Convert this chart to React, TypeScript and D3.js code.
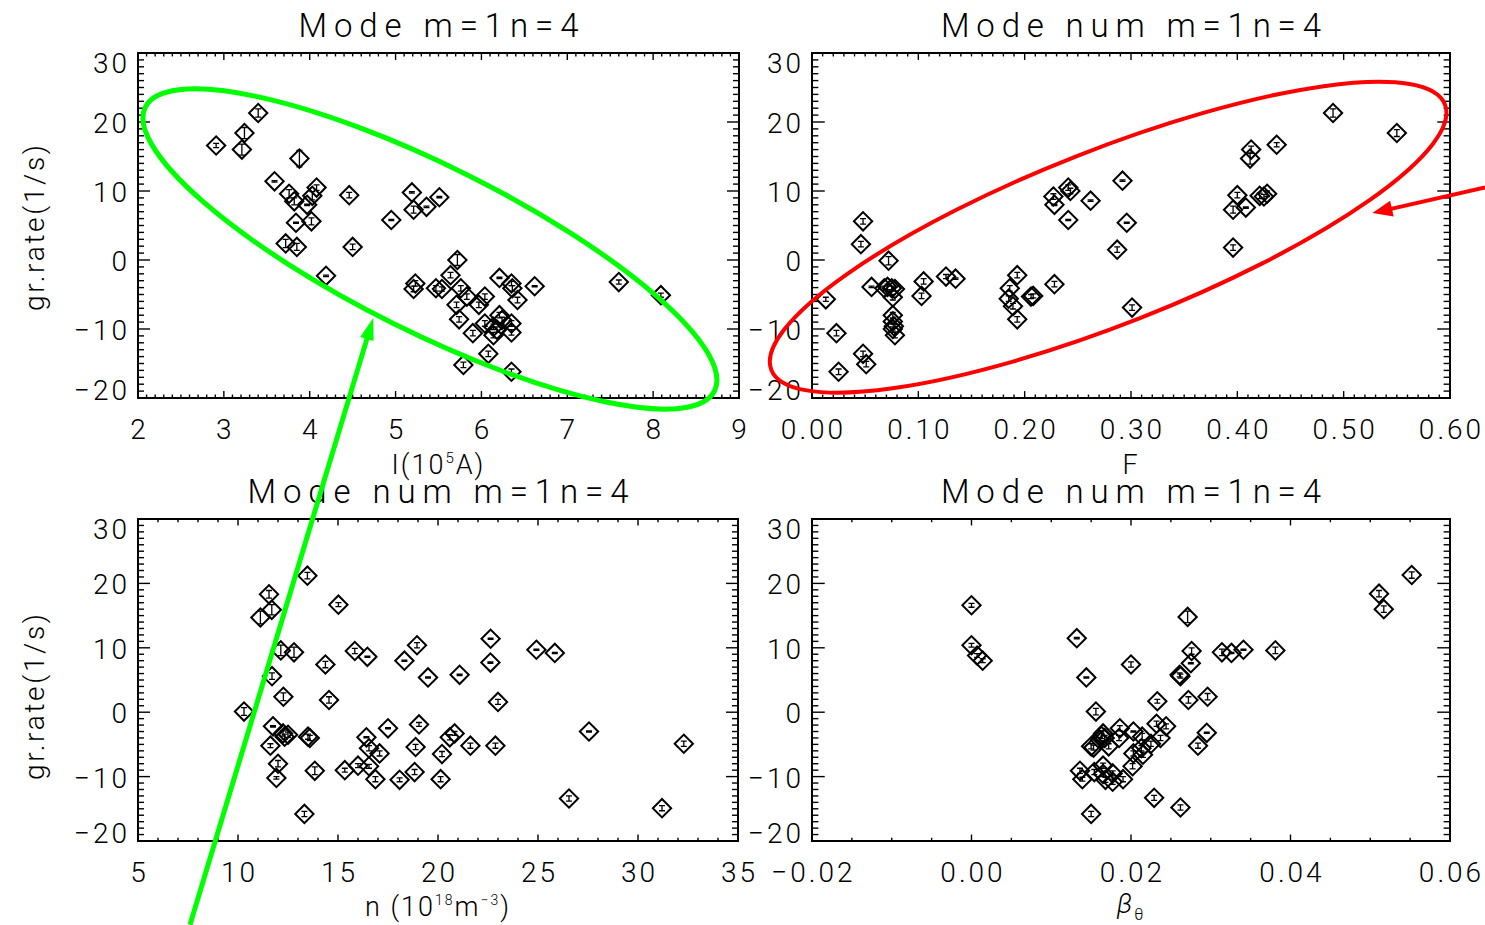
import React from "react";
import * as d3 from "d3";

// ---- shared growth-rate axis ----
const RATE_DOMAIN = [-20, 30];
const RATE_TICKS = [-20, -10, 0, 10, 20, 30];

// ---- panel 1: growth rate vs plasma current I (10^5 A) ----
const I_TICKS = [2, 3, 4, 5, 6, 7, 8, 9];
const currentI = [2.91, 3.21, 3.24, 3.40, 3.88, 3.59, 4.08, 3.76, 4.03, 3.82, 3.97, 4.46, 5.19, 5.51, 5.36, 5.21, 4.95, 3.84, 4.02, 3.72, 3.85, 4.50, 4.19, 5.72, 5.64, 5.23, 5.21, 5.47, 5.54, 5.76, 5.83, 6.04, 5.97, 5.71, 5.74, 6.21, 6.35, 6.36, 6.62, 6.42, 6.21, 6.24, 6.04, 6.35, 6.14, 6.18, 6.35, 5.90, 6.14, 6.08, 5.79, 6.35, 7.60, 8.09];
const rateVsI = [16.6, 16.0, 18.4, 21.3, 14.7, 11.4, 10.5, 9.6, 9.3, 8.5, 8.0, 9.4, 9.8, 9.1, 7.7, 7.3, 5.8, 5.4, 5.6, 2.4, 1.9, 1.9, -2.3, 0.0, -2.2, -3.4, -4.2, -4.1, -4.2, -4.1, -5.3, -5.3, -6.5, -6.5, -8.6, -2.6, -3.4, -4.1, -3.8, -5.8, -8.0, -8.7, -9.2, -9.2, -9.7, -10.1, -10.5, -10.6, -10.9, -13.6, -15.2, -16.2, -3.2, -5.1];
const errVsI = [0.3, 0.8, 0.8, 0.6, 1.2, 0.1, 0.4, 0.6, 0.6, 0.5, 0.1, 0.4, 0.1, 0.1, 0.1, 0.5, 0.1, 0.1, 0.5, 0.6, 0.5, 0.4, 0.1, 0.8, 0.4, 0.4, 0.4, 0.4, 0.3, 0.4, 0.4, 0.4, 0.4, 0.4, 0.4, 0.1, 0.3, 0.4, 0.1, 0.4, 0.4, 0.4, 0.4, 0.4, 0.4, 0.4, 0.4, 0.4, 0.4, 0.4, 0.4, 0.4, 0.3, 0.3];

// ---- panel 2: growth rate vs F ----
const F_TICKS = [0, 0.1, 0.2, 0.3, 0.4, 0.5, 0.6];
const fValues = [0.013, 0.023, 0.025, 0.048, 0.046, 0.072, 0.056, 0.071, 0.075, 0.078, 0.068, 0.076, 0.076, 0.076, 0.077, 0.078, 0.076, 0.048, 0.051, 0.105, 0.103, 0.126, 0.135, 0.193, 0.186, 0.185, 0.189, 0.193, 0.206, 0.208, 0.228, 0.227, 0.228, 0.241, 0.243, 0.241, 0.262, 0.292, 0.296, 0.287, 0.301, 0.490, 0.550, 0.437, 0.413, 0.412, 0.400, 0.396, 0.408, 0.421, 0.428, 0.425, 0.396];
const rateVsF = [-5.7, -10.6, -16.2, 5.6, 2.3, -0.1, -3.9, -3.9, -4.1, -4.2, -4.1, -5.4, -8.0, -8.9, -9.6, -10.9, -10.0, -13.6, -15.1, -3.1, -5.2, -2.4, -2.7, -2.2, -4.1, -5.6, -6.7, -8.6, -5.3, -5.2, -3.5, 9.2, 8.0, 10.5, 10.0, 5.8, 8.6, 11.5, 5.4, 1.5, -6.9, 21.3, 18.4, 16.7, 16.0, 14.7, 9.4, 7.3, 7.6, 9.3, 9.6, 9.2, 1.8];
const errVsF = [0.3, 0.4, 0.4, 0.4, 0.4, 0.6, 0.1, 0.4, 0.3, 0.3, 0.3, 0.4, 0.4, 0.4, 0.3, 0.4, 0.3, 0.4, 0.4, 0.4, 0.4, 0.3, 0.1, 0.4, 0.4, 0.4, 0.4, 0.4, 0.3, 0.3, 0.4, 0.4, 0.1, 0.4, 0.4, 0.1, 0.1, 0.1, 0.1, 0.4, 0.4, 0.6, 0.5, 0.3, 0.5, 0.8, 0.4, 0.5, 0.1, 0.4, 0.4, 0.3, 0.4];

// ---- panel 3: growth rate vs density n (10^18 m^-3) ----
const N_TICKS = [5, 10, 15, 20, 25, 30, 35];
const density = [13.47, 11.55, 11.69, 11.12, 15.02, 12.14, 12.80, 15.84, 16.47, 14.37, 18.32, 18.95, 19.50, 11.70, 12.27, 14.55, 10.30, 11.75, 12.25, 12.50, 12.33, 13.50, 13.59, 11.62, 12.00, 11.92, 13.84, 13.32, 15.34, 16.00, 16.55, 16.42, 16.55, 17.08, 16.87, 17.50, 18.08, 18.83, 18.88, 19.05, 20.13, 20.20, 21.08, 22.63, 22.62, 24.92, 25.84, 23.00, 20.59, 20.83, 21.62, 22.87, 27.55, 26.55, 32.29, 31.20];
const rateVsN = [21.2, 18.3, 15.9, 14.7, 16.7, 9.6, 9.3, 9.5, 8.6, 7.4, 8.0, 10.4, 5.4, 5.6, 2.4, 1.9, 0.1, -2.2, -3.3, -3.5, -3.8, -3.8, -4.0, -5.2, -8.0, -10.2, -9.1, -15.8, -9.0, -8.3, -8.4, -3.9, -5.6, -6.4, -10.4, -2.5, -10.5, -9.3, -5.4, -1.9, -10.4, -6.5, 5.8, 11.4, 7.7, 9.7, 9.2, 1.6, -3.9, -3.3, -5.2, -5.2, -3.0, -13.4, -4.9, -14.9];
const errVsN = [0.5, 0.6, 0.8, 1.0, 0.3, 0.8, 0.8, 0.4, 0.1, 0.5, 0.1, 0.4, 0.1, 0.5, 0.6, 0.5, 0.6, 0.1, 0.4, 0.4, 0.4, 0.4, 0.4, 0.3, 0.5, 0.2, 0.6, 0.4, 0.3, 0.3, 0.3, 0.1, 0.4, 0.4, 0.4, 0.1, 0.3, 0.4, 0.4, 0.3, 0.4, 0.4, 0.1, 0.1, 0.1, 0.1, 0.1, 0.4, 0.4, 0.3, 0.4, 0.4, 0.1, 0.4, 0.4, 0.4];

// ---- panel 4: growth rate vs poloidal beta ----
const BETA_TICKS = [-0.02, 0, 0.02, 0.04, 0.06];
const betaTheta = [0.0000, 0.0000, 0.0007, 0.0014, 0.0132, 0.0144, 0.0156, 0.0200, 0.0271, 0.0276, 0.0275, 0.0261, 0.0262, 0.0314, 0.0326, 0.0341, 0.0233, 0.0272, 0.0296, 0.0295, 0.0284, 0.0229, 0.0262, 0.0150, 0.0165, 0.0163, 0.0167, 0.0161, 0.0186, 0.0203, 0.0185, 0.0214, 0.0232, 0.0244, 0.0237, 0.0225, 0.0213, 0.0203, 0.0215, 0.0202, 0.0153, 0.0150, 0.0172, 0.0136, 0.0139, 0.0154, 0.0165, 0.0165, 0.0168, 0.0177, 0.0190, 0.0177, 0.0381, 0.0552, 0.0511, 0.0517];
const rateVsBeta = [16.6, 10.4, 8.8, 8.0, 11.5, 5.4, 0.1, 7.4, 14.8, 9.5, 7.6, 5.8, 5.6, 9.3, 9.2, 9.7, 1.7, 1.9, 2.4, -3.2, -5.2, -13.3, -14.8, -15.8, -3.3, -3.7, -4.0, -4.3, -2.5, -3.0, -4.0, -3.8, -1.8, -2.2, -4.0, -4.9, -5.6, -6.4, -6.6, -8.4, -5.5, -5.3, -5.3, -9.1, -10.4, -9.3, -8.3, -9.6, -10.5, -9.5, -10.4, -10.8, 9.6, 21.3, 18.4, 16.0];
const errVsBeta = [0.3, 0.3, 0.3, 0.3, 0.1, 0.1, 0.5, 0.4, 0.9, 0.5, 0.1, 0.3, 0.3, 0.5, 0.1, 0.1, 0.3, 0.5, 0.5, 0.1, 0.4, 0.4, 0.4, 0.4, 0.4, 0.4, 0.4, 0.4, 0.4, 0.1, 0.4, 0.5, 0.4, 0.4, 0.4, 0.4, 0.4, 0.4, 0.4, 0.4, 0.4, 0.4, 0.4, 0.4, 0.3, 0.4, 0.4, 0.4, 0.4, 0.4, 0.4, 0.4, 0.5, 0.5, 0.5, 0.5];

const FONT = "Roboto, 'Liberation Sans', Arial, sans-serif";
const W = 1485;
const H = 925;

type Spec = {
  left: number; right: number; top: number; bottom: number;
  xDomain: number[]; xTicks: number[]; xMinor: number; xFmt: (v: number) => string;
  title: string; titleLen: number; yTitleY: number; xTitleDy: number;
  xTitle: React.ReactNode;
  xs: number[]; ys: number[]; errs: number[];
};

const fmtInt = d3.format("d");
const fmt2 = d3.format(".2f");

const specs: Spec[] = [
  {
    left: 138, right: 739, top: 53, bottom: 398,
    xDomain: [2, 9], xTicks: I_TICKS, xMinor: 0.1, xFmt: fmtInt,
    title: "Mode m=1n=4", titleLen: 280, yTitleY: 228, xTitleDy: 76,
    xTitle: (<>I(10<tspan fontSize="15" dy="-11">5</tspan><tspan dy="11">A)</tspan></>),
    xs: currentI, ys: rateVsI, errs: errVsI,
  },
  {
    left: 812, right: 1450, top: 53, bottom: 398,
    xDomain: [0, 0.6], xTicks: F_TICKS, xMinor: 0.01, xFmt: fmt2,
    title: "Mode num m=1n=4", titleLen: 380, yTitleY: 0, xTitleDy: 76,
    xTitle: "F",
    xs: fValues, ys: rateVsF, errs: errVsF,
  },
  {
    left: 138, right: 738, top: 519, bottom: 841,
    xDomain: [5, 35], xTicks: N_TICKS, xMinor: 1, xFmt: fmtInt,
    title: "Mode num m=1n=4", titleLen: 381, yTitleY: 697, xTitleDy: 75,
    xTitle: (<>n (10<tspan fontSize="14" dy="-11">18</tspan><tspan dy="11">m</tspan><tspan fontSize="14" dy="-11">−3</tspan><tspan dy="11">)</tspan></>),
    xs: density, ys: rateVsN, errs: errVsN,
  },
  {
    left: 812, right: 1450, top: 519, bottom: 841,
    xDomain: [-0.02, 0.06], xTicks: BETA_TICKS, xMinor: 0.005, xFmt: fmt2,
    title: "Mode num m=1n=4", titleLen: 380, yTitleY: 0, xTitleDy: 72,
    xTitle: (<><tspan fontStyle="italic">β</tspan><tspan fontSize="16" dy="7">θ</tspan></>),
    xs: betaTheta, ys: rateVsBeta, errs: errVsBeta,
  },
];

function scalesFor(s: Spec) {
  const x = d3.scaleLinear().domain(s.xDomain).range([s.left, s.right]);
  const y = d3.scaleLinear().domain(RATE_DOMAIN).range([s.bottom, s.top]);
  return { x, y };
}

function minorValues(domain: number[], step: number) {
  const n = Math.round((domain[1] - domain[0]) / step);
  return d3.range(n + 1).map((i) => domain[0] + i * step);
}

const diamond = d3.symbol(d3.symbolSquare, 168)();

function Panel({ s }: { s: Spec }) {
  const { x, y } = scalesFor(s);
  const w = s.right - s.left;
  const h = s.bottom - s.top;
  const yMaj = 0.02 * w, yMin = yMaj / 2;
  const xMaj = 0.02 * h, xMin = xMaj / 2;
  const xMinorTicks = minorValues(s.xDomain, s.xMinor);
  const yMinorTicks = minorValues(RATE_DOMAIN, 1);
  const cx = (s.left + s.right) / 2;
  const n = Math.min(s.xs.length, s.ys.length, s.errs.length);
  const pts = d3.range(n).map((i) => ({ x: s.xs[i], y: s.ys[i], e: s.errs[i] }));

  return (
    <g>
      {/* title */}
      <text x={cx} y={s.top - 16} textAnchor="middle" fontSize={33} textLength={s.titleLen} lengthAdjust="spacing">{s.title}</text>

      {/* frame */}
      <rect x={s.left} y={s.top} width={w} height={h} fill="none" stroke="#000" strokeWidth={2} />

      {/* ticks on all four sides */}
      <g stroke="#000" strokeWidth={1.4}>
        {xMinorTicks.map((v, i) => {
          const isMajor = s.xTicks.some((t) => Math.abs(t - v) < s.xMinor / 10);
          const len = isMajor ? xMaj : xMin;
          const px = x(v);
          return (
            <g key={"xt" + i}>
              <line x1={px} x2={px} y1={s.bottom} y2={s.bottom - len} />
              <line x1={px} x2={px} y1={s.top} y2={s.top + len} />
            </g>
          );
        })}
        {yMinorTicks.map((v, i) => {
          const isMajor = RATE_TICKS.includes(Math.round(v)) && Math.abs(v - Math.round(v)) < 1e-6;
          const len = isMajor ? yMaj : yMin;
          const py = y(v);
          return (
            <g key={"yt" + i}>
              <line x1={s.left} x2={s.left + len} y1={py} y2={py} />
              <line x1={s.right} x2={s.right - len} y1={py} y2={py} />
            </g>
          );
        })}
      </g>

      {/* tick labels */}
      <g fontSize={28} letterSpacing={3}>
        {s.xTicks.map((v) => (
          <text key={"xl" + v} x={x(v) + 1.5} y={s.bottom + 41} textAnchor="middle">{s.xFmt(v)}</text>
        ))}
        {RATE_TICKS.map((v) => {
          const c = Math.min(Math.max(y(v) + 1, s.top + 10), s.bottom - 8);
          return (
            <text key={"yl" + v} x={s.left - 8} y={c + 10} textAnchor="end">{fmtInt(v)}</text>
          );
        })}
      </g>

      {/* axis titles */}
      <text x={cx} y={s.bottom + s.xTitleDy} textAnchor="middle" fontSize={27} letterSpacing={2}>{s.xTitle}</text>
      {s.yTitleY > 0 && (
        <text transform={`translate(44,${s.yTitleY}) rotate(-90)`} textAnchor="middle" fontSize={28} textLength={166} lengthAdjust="spacing">gr.rate(1/s)</text>
      )}

      {/* measurements: diamond + error bar */}
      <g fill="none" stroke="#000">
        {pts.map((p, i) => {
          const px = x(p.x);
          const py = y(p.y);
          const y0 = y(p.y - p.e);
          const y1 = y(p.y + p.e);
          return (
            <g key={"p" + i}>
              <path d={diamond} transform={`translate(${px},${py}) rotate(45)`} strokeWidth={2} />
              <path d={`M${px},${y0}V${y1}M${px - 3},${y0}H${px + 3}M${px - 3},${y1}H${px + 3}`} strokeWidth={1.3} />
            </g>
          );
        })}
      </g>
    </g>
  );
}

// ---- highlight rings and pointers (centres/tips in data units, sizes in px) ----
const GREEN_RING = { cx: 5.4, cy: 1.6, rx: 318, ry: 83, angle: 26.5 };
const RED_RING = { cx: 0.2785, cy: 3.3, rx: 362, ry: 87, angle: -21.5 };
const GREEN_TIP = { x: 4.74, y: -8.4 };   // panel 1 coordinates
const GREEN_TAIL = { x: 7.6, y: -33.0 };  // panel 3 coordinates
const RED_TIP = { x: 0.527, y: 6.8 };     // panel 2 coordinates
const RED_TAIL = { x: 0.633, y: 10.5 };   // panel 2 coordinates

function Arrow({ x1, y1, x2, y2, color, width, headLen, headHalf }: any) {
  const ang = Math.atan2(y2 - y1, x2 - x1);
  const bx = x2 - headLen * Math.cos(ang);
  const by = y2 - headLen * Math.sin(ang);
  const nx = -Math.sin(ang), ny = Math.cos(ang);
  const head = d3.line()([
    [x2, y2],
    [bx + nx * headHalf, by + ny * headHalf],
    [bx - nx * headHalf, by - ny * headHalf],
  ]) + "Z";
  return (
    <g>
      <line x1={x1} y1={y1} x2={bx + 2 * Math.cos(ang)} y2={by + 2 * Math.sin(ang)} stroke={color} strokeWidth={width} />
      <path d={head} fill={color} />
    </g>
  );
}

export default function App() {
  const s1 = scalesFor(specs[0]);
  const s2 = scalesFor(specs[1]);
  const s3 = scalesFor(specs[2]);
  const gcx = s1.x(GREEN_RING.cx), gcy = s1.y(GREEN_RING.cy);
  const rcx = s2.x(RED_RING.cx), rcy = s2.y(RED_RING.cy);
  return (
    <svg width={W} height={H} viewBox={`0 0 ${W} ${H}`}
      style={{ position: "absolute", left: 0, top: 0, background: "#fff" }}
      fontFamily={FONT} fontWeight={300} fill="#000">
      <rect width={W} height={H} fill="#fff" />
      {specs.map((s, i) => <Panel key={i} s={s} />)}

      <ellipse cx={gcx} cy={gcy} rx={GREEN_RING.rx} ry={GREEN_RING.ry}
        transform={`rotate(${GREEN_RING.angle},${gcx},${gcy})`} fill="none" stroke="#00ff00" strokeWidth={5} />
      <ellipse cx={rcx} cy={rcy} rx={RED_RING.rx} ry={RED_RING.ry}
        transform={`rotate(${RED_RING.angle},${rcx},${rcy})`} fill="none" stroke="#ff0000" strokeWidth={4} />

      <Arrow x1={s3.x(GREEN_TAIL.x)} y1={s3.y(GREEN_TAIL.y)} x2={s1.x(GREEN_TIP.x)} y2={s1.y(GREEN_TIP.y)}
        color="#00ff00" width={5} headLen={22} headHalf={7} />
      <Arrow x1={s2.x(RED_TAIL.x)} y1={s2.y(RED_TAIL.y)} x2={s2.x(RED_TIP.x)} y2={s2.y(RED_TIP.y)}
        color="#ff0000" width={4} headLen={20} headHalf={8} />
    </svg>
  );
}
